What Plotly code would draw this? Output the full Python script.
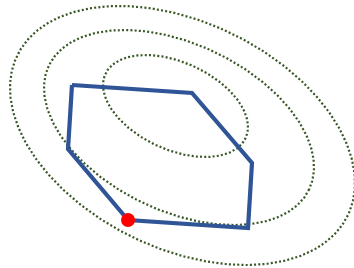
import numpy as np
import plotly.graph_objects as go

# Feasible-region polygon vertices (chart coordinates, y downward)
poly_x = [72, 192, 252, 248, 128, 68, 72]
poly_y = [85, 93, 163, 228, 220, 149, 85]

# Optimum point
opt_x = [128]
opt_y = [220]

# Contour ellipses: center x, center y, semi-major, semi-minor, tilt (deg)
ell_cx = [175.5, 179.0, 182.5]
ell_cy = [106.0, 127.5, 135.5]
ell_a = [77.1, 144.1, 183.6]
ell_b = [43.7, 83.5, 113.2]
ell_deg = [24.4, 25.4, 25.8]

W, H = 354, 268
fig = go.Figure()

t = np.linspace(0, 2 * np.pi, 361)
for cx, cy, a, b, d in zip(ell_cx, ell_cy, ell_a, ell_b, ell_deg):
    th = np.radians(d)
    xs = cx + a * np.cos(t) * np.cos(th) - b * np.sin(t) * np.sin(th)
    ys = cy + a * np.cos(t) * np.sin(th) + b * np.sin(t) * np.cos(th)
    fig.add_trace(go.Scatter(x=xs, y=ys, mode="lines",
                             line=dict(color="#375623", width=2.2, dash="2px,2.2px"),
                             hoverinfo="skip", showlegend=False))

fig.add_trace(go.Scatter(x=poly_x, y=poly_y, mode="lines",
                         line=dict(color="#2F5597", width=4.2),
                         showlegend=False))
fig.add_trace(go.Scatter(x=opt_x, y=opt_y, mode="markers",
                         marker=dict(color="#FF0000", size=14),
                         showlegend=False))

fig.update_layout(
    width=W, height=H,
    margin=dict(l=0, r=0, t=0, b=0),
    paper_bgcolor="white", plot_bgcolor="white",
    xaxis=dict(range=[0, W], visible=False, fixedrange=True),
    yaxis=dict(range=[H, 0], visible=False, fixedrange=True),
)
fig.write_html("out.html", config={"displayModeBar": False},
               post_script="document.body.style.margin='0';document.body.style.overflow='hidden';")
